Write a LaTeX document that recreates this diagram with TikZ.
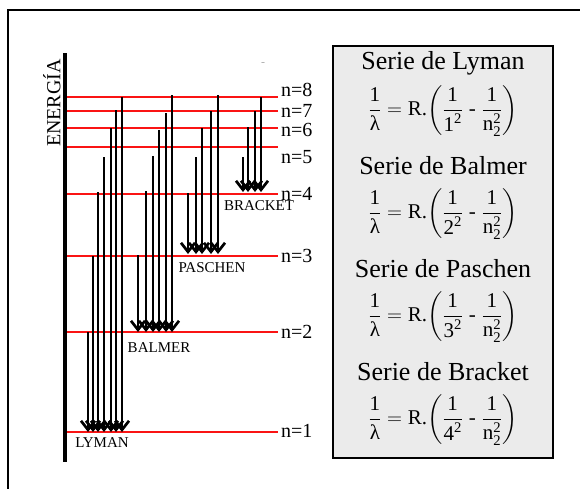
\documentclass[tikz,border=0pt]{standalone}
\usepackage{amsmath}
\usepackage{fontspec}
\setmainfont{Liberation Serif}
\usetikzlibrary{arrows.meta}
\definecolor{boxgray}{RGB}{235,235,235}
\definecolor{levelred}{RGB}{250,20,20}
\newcommand{\rydberg}[1]{$\dfrac{\text{1}}{\text{λ}} = \text{R.}\!\left(\dfrac{\text{1}}{\text{#1}^{\text{2}}}\;\text{-}\;\dfrac{\text{1}}{\text{n}_{\text{2}}^{\text{2}}}\right)$}

\begin{document}
\begin{tikzpicture}[
    x=1pt, y=-1pt,
    level/.style={levelred, line width=1.3pt},
    levellabel/.style={anchor=west, inner sep=0pt, font=\fontsize{20}{22}\selectfont},
    transition/.style={line width=2.7pt, -{Straight Barb[length=9pt,width=14pt]}},
    series/.style={inner sep=0pt, font=\fontsize{15}{17}\selectfont},
    seriestitle/.style={inner sep=0pt, font=\fontsize{26}{28}\selectfont},
    formula/.style={inner sep=0pt, font=\fontsize{21}{23}\selectfont}
]
    \useasboundingbox (0,0) rectangle (580,488);
    \draw[line width=1.2pt] (8,490) -- (8,10) -- (582,10);

    % energy axis
    \draw[line width=3.5pt] (65,53) -- (65,462);
    \node[rotate=90, inner sep=0pt, font=\fontsize{20}{22}\selectfont] (energy) at (52,103) {ENERGÍA};
    \node[inner sep=0pt, font=\fontsize{6}{6}\selectfont] (mark) at (263,64) {--};

    % levels
    \foreach \n/\y/\ly in {8/97/90, 7/111/111, 6/128/130, 5/147/157, 4/194/194, 3/256/256, 2/332/332, 1/432/431} {
        \draw[level] (67,\y) -- (278,\y);
        \node[levellabel] (lab\n) at (281,\ly) {n=\n};
    }

    % transitions
    \foreach \x/\t in {88/332, 93/256, 98/192, 104/157, 111/128, 116/110, 122/97}
        \draw[transition] (\x,\t) -- (\x,432);
    \foreach \x/\t in {138/255, 146/191, 153/156, 159/130, 166/113, 172/95}
        \draw[transition] (\x,\t) -- (\x,332);
    \foreach \x/\t in {188/193, 196/157, 202/128, 211/111, 218/95}
        \draw[transition] (\x,\t) -- (\x,254);
    \foreach \x/\t in {243/157, 248/127, 255/111, 261/97}
        \draw[transition] (\x,\t) -- (\x,192);

    \node[series] (lyman) at (102,443) {LYMAN};
    \node[series] (balmer) at (159,348) {BALMER};
    \node[series] (paschen) at (212,268) {PASCHEN};
    \node[series] (bracket) at (259,206) {BRACKET};

    % formulas
    \draw[fill=boxgray, line width=1.5pt] (333,46) rectangle (553,458);
    \foreach \k/\name/\m in {0/Lyman/1, 1/Balmer/2, 2/Paschen/3, 3/Bracket/4} {
        \node[seriestitle] (title\m) at (443,{63+103*\k}) {Serie de \name};
        \node[formula] (formula\m) at (443,{111+103*\k}) {\rydberg{\m}};
    }
\end{tikzpicture}
\end{document}
